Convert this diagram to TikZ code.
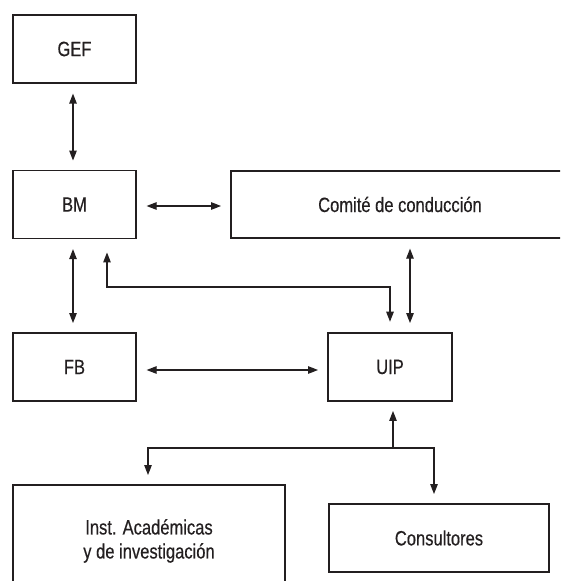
\documentclass[tikz,border=0pt]{standalone}
\usepackage{fontspec}
\setmainfont{Liberation Sans}[FakeStretch=0.8,FakeBold=0.4]
\usepackage{tikz}
\usetikzlibrary{arrows.meta}
\definecolor{ink}{HTML}{231F20}

\begin{document}
\begin{tikzpicture}[x=0.75pt,y=-0.75pt,font=\fontsize{15.5}{18}\selectfont,
  box/.style={draw=ink,line width=0.9pt,inner sep=0pt,text=ink,align=center},
  sm/.style={box,minimum width=92.25pt,minimum height=51pt},
  ar/.style={{Triangle[length=7.5pt,width=5.6pt]}-{Triangle[length=7.5pt,width=5.6pt]},draw=ink,line width=0.9pt},
  to/.style={-{Triangle[length=7.5pt,width=5.6pt]},draw=ink,line width=0.9pt},
  gap/.style={shorten <=7.5pt,shorten >=7pt}]
\path[use as bounding box,clip] (0,0) rectangle (560,581);
\node[sm] (gef) at (74.5,49) {GEF};
\node[sm] (bm) at (74.5,204.5) {BM};
\node[box,minimum width=253.5pt,minimum height=50.25pt] (cc) at (400,204.5) {Comité de conducción};
\node[sm] (fb) at (74.5,367) {FB};
\node[sm,minimum width=93pt] (uip) at (390,367) {UIP};
\node[box,minimum width=204pt,minimum height=84pt] (inst) at (149,541) {Inst. Académicas\\y de investigación};
\node[box,minimum width=165pt,minimum height=51pt] (cons) at (439,538) {Consultores};
\coordinate (hub) at (393,448);
\draw[ar,gap] (gef.south -| 73,0) -- (bm.north -| 73,0);
\draw[ar,gap] (bm.east |- 0,206) -- (cc.west |- 0,206);
\draw[ar,gap] (bm.south -| 73,0) -- (fb.north -| 73,0);
\draw[ar,gap] (fb.east |- 0,370) -- (uip.west |- 0,370);
\draw[ar,gap] (cc.south -| 410,0) -- (uip.north -| 410,0);
\draw[ar,shorten <=8pt,shorten >=10pt] (uip.north -| 390,0) |- (107,287) -- (bm.south -| 107,0);
\draw[to,shorten >=7pt] (hub) -- (uip.south -| hub);
\draw[to,shorten >=7pt] (hub) -| (inst.north -| 148,0);
\draw[to,shorten >=7pt] (hub) -| (cons.north -| 434,0);
\end{tikzpicture}
\end{document}
